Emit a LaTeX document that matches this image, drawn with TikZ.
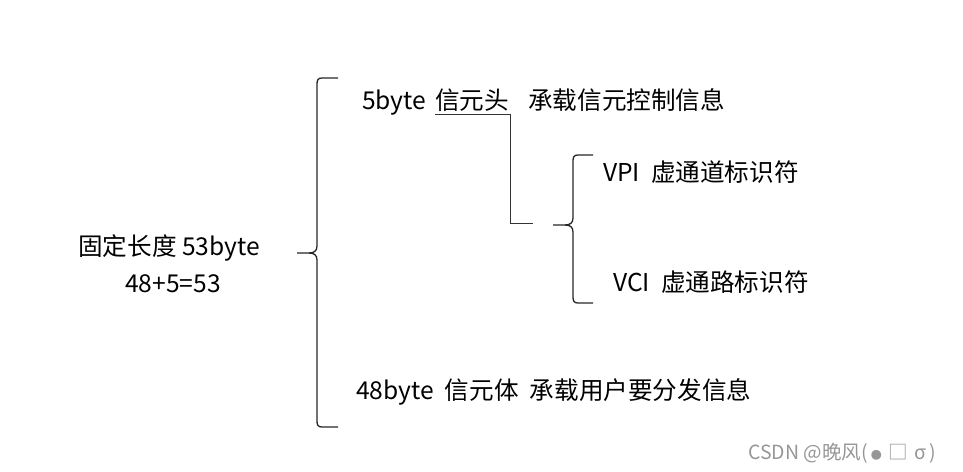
\documentclass[tikz,border=0pt]{standalone}
\usepackage{fontspec}
\setmainfont{Noto Sans CJK SC}
\usetikzlibrary{calc}

\begin{document}
\begin{tikzpicture}[x=1pt,y=-1pt]
\definecolor{markgray}{RGB}{150,150,150}
\tikzset{
  txt/.style={anchor=base west, inner sep=0pt, font=\fontsize{24.6}{28}\selectfont},
  brace/.style={draw=black!85, line width=1.3pt},
  link/.style={draw=black!80, line width=1pt},
  wmark/.style={anchor=base west, inner sep=0pt, text=markgray, font=\fontsize{19.5}{22}\selectfont}
}
\useasboundingbox (0,0) rectangle (963,471);

% ======================= LINKS: GESAMTLAENGE =======================
\node[txt] (total) at (78,255) {固定长度 53byte};
\node[txt] (sum) at (125,292) {48+5=53};

% grosse Klammer
\coordinate (bigtip) at (297,253);
\draw[brace] (338,78) -- (322,78) .. controls (318,78) and (317,80) .. (317,84)
  -- (317,246) .. controls (317,251) and (314,253) .. (309,253) -- (bigtip);
\draw[brace] (309,253) .. controls (314,253) and (317,255) .. (317,260)
  -- (317,421) .. controls (317,425) and (318,427) .. (322,427) -- (338,427);

% ======================= MITTE: KOPF UND RUMPF =======================
\node[txt] (bytefive) at (362,109) {5byte};
\node[txt] (cellhead) at (435,109) {信元头};
\node[txt] (headinfo) at (528,109) {承载信元控制信息};
\node[txt] (cellbody) at (356,399) {48byte\ \ 信元体\ \ 承载用户要分发信息};

% Unterstrich und Verbindung zur kleinen Klammer
\coordinate (headend) at (533,223);
\draw[link] ([yshift=-5pt]cellhead.base west) -- ++(75,0) |- (headend);

% kleine Klammer
\coordinate (smalltip) at (553,225);
\draw[brace] (593,155) -- (578,155) .. controls (574,155) and (573,157) .. (573,161)
  -- (573,218) .. controls (573,223) and (570,225) .. (565,225) -- (smalltip);
\draw[brace] (565,225) .. controls (570,225) and (573,227) .. (573,232)
  -- (573,297) .. controls (573,301) and (574,303) .. (578,303) -- (593,303);

% ======================= RECHTS: VPI / VCI =======================
\node[txt] (vpi) at (603,181) {VPI\ \ 虚通道标识符};
\node[txt] (vci) at (613,291) {VCI\ \ 虚通路标识符};

\node[wmark] (credit) at (748,459) {CSDN @晚风(\,{\fontsize{11}{12}\selectfont ●}\,\,□\,\,σ\,)};
\end{tikzpicture}
\end{document}
